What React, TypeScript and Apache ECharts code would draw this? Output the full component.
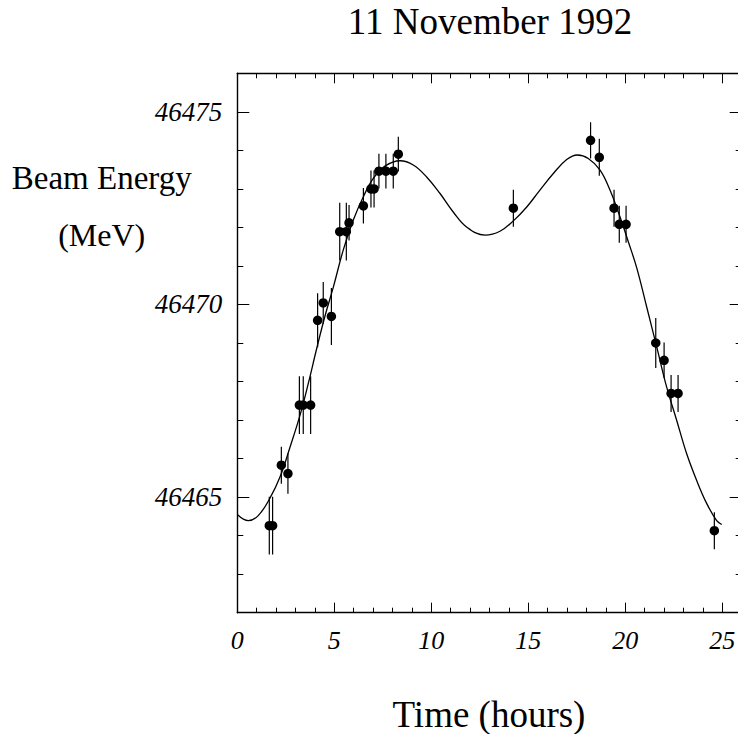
import React, { useEffect, useRef } from "react";
import * as echarts from "echarts";

// Measured data points: time (hours), beam energy (MeV), error (MeV)
const pointTimes = [1.65, 1.82, 2.27, 2.61, 3.2, 3.4, 3.78, 4.14, 4.43, 4.85, 5.28, 5.62, 5.76, 6.5, 6.89, 7.05, 7.3, 7.66, 8.04, 8.3, 14.23, 18.21, 18.66, 19.42, 19.69, 20.04, 21.57, 22.0, 22.36, 22.72, 24.59];
const pointEnergies = [46464.26, 46464.26, 46465.83, 46465.61, 46467.39, 46467.39, 46467.39, 46469.59, 46470.04, 46469.69, 46471.89, 46471.89, 46472.12, 46472.56, 46473.0, 46473.0, 46473.46, 46473.46, 46473.46, 46473.9, 46472.5, 46474.26, 46473.82, 46472.5, 46472.08, 46472.08, 46469.0, 46468.55, 46467.69, 46467.69, 46464.13];
const pointErrors = [0.75, 0.75, 0.48, 0.52, 0.75, 0.75, 0.75, 0.7, 0.54, 0.74, 0.75, 0.75, 0.46, 0.46, 0.48, 0.48, 0.45, 0.45, 0.45, 0.45, 0.48, 0.47, 0.48, 0.48, 0.48, 0.48, 0.65, 0.46, 0.48, 0.48, 0.48];

// Fitted curve
const curveTimes = [0.0, 0.57, 1.08, 1.69, 2.2, 2.72, 3.23, 3.66, 4.09, 4.52, 4.95, 5.46, 5.98, 6.49, 7.01, 7.61, 8.39, 9.07, 9.76, 10.45, 11.13, 11.82, 12.77, 13.54, 14.23, 14.92, 15.6, 16.29, 16.98, 17.53, 18.09, 18.7, 19.21, 19.73, 20.16, 20.59, 21.1, 21.62, 22.13, 22.65, 23.16, 23.68, 24.2, 24.71, 24.97];
const curveEnergies = [46464.55, 46464.39, 46464.52, 46464.98, 46465.52, 46466.3, 46467.12, 46467.95, 46468.85, 46469.7, 46470.45, 46471.41, 46472.19, 46472.79, 46473.27, 46473.59, 46473.73, 46473.62, 46473.31, 46472.88, 46472.4, 46472.01, 46471.8, 46471.9, 46472.17, 46472.53, 46472.97, 46473.4, 46473.76, 46473.88, 46473.79, 46473.49, 46472.97, 46472.27, 46471.62, 46470.95, 46469.94, 46468.9, 46467.86, 46466.99, 46466.13, 46465.43, 46464.83, 46464.39, 46464.29];

// Axis ticks
const xMajorTicks = [0, 5, 10, 15, 20, 25];
const xMinorTicks = [0, 1, 2, 3, 4, 5, 6, 7, 8, 9, 10, 11, 12, 13, 14, 15, 16, 17, 18, 19, 20, 21, 22, 23, 24, 25, 26];
const yMajorTicks = [46465, 46470, 46475];
const yMinorTicks = [46462, 46463, 46464, 46465, 46466, 46467, 46468, 46469, 46470, 46471, 46472, 46473, 46474, 46475, 46476];

const X_MIN = 0;
const X_MAX = 26;
const Y_MIN = 46462;
const Y_MAX = 46476;

const titleText = "11 November 1992";
const xTitle = "Time (hours)";
const yTitleLine1 = "Beam Energy";
const yTitleLine2 = "(MeV)";

const SERIF = '"Liberation Serif", "Times New Roman", serif';

export default function App() {
  const ref = useRef<HTMLDivElement>(null);

  useEffect(() => {
    if (!ref.current) return;
    const chart = echarts.init(ref.current, undefined, { renderer: "svg" });

    const lineStyle = { color: "#000", width: 1.4 };
    const tickStyle = { color: "#000", width: 1 };

    const makeX = (position: "top" | "bottom", major: boolean, labels: boolean) => ({
      type: "value" as const,
      position,
      min: X_MIN,
      max: X_MAX,
      axisLine: { show: !major, onZero: false, lineStyle },
      axisTick: {
        show: true,
        inside: true,
        length: major ? 10 : 5,
        customValues: major ? xMajorTicks : xMinorTicks,
        lineStyle: tickStyle,
      },
      axisLabel: labels
        ? {
            show: true,
            customValues: xMajorTicks,
            fontFamily: SERIF,
            fontStyle: "italic",
            fontSize: 26,
            lineHeight: 26,
            color: "#000",
            margin: 15,
          }
        : { show: false },
      splitLine: { show: false },
    });

    const makeY = (position: "left" | "right", major: boolean, labels: boolean) => ({
      type: "value" as const,
      position,
      min: Y_MIN,
      max: Y_MAX,
      axisLine: { show: !major, onZero: false, lineStyle },
      axisTick: {
        show: true,
        inside: true,
        length: major ? 12 : 6,
        customValues: major ? yMajorTicks : yMinorTicks,
        lineStyle: tickStyle,
      },
      axisLabel: labels
        ? {
            show: true,
            customValues: yMajorTicks,
            fontFamily: SERIF,
            fontStyle: "italic",
            fontSize: 27,
            color: "#000",
            margin: 15,
            formatter: (v: number) => String(v),
          }
        : { show: false },
      splitLine: { show: false },
    });

    const scatterData = pointTimes.map((t, i) => [t, pointEnergies[i], pointErrors[i]]);
    const curveData = curveTimes.map((t, i) => [t, curveEnergies[i]]);

    chart.setOption({
      animation: false,
      backgroundColor: "#fff",
      grid: { left: 237.3, top: 73.3, width: 504.4, height: 539.4, containLabel: false },
      xAxis: [
        makeX("bottom", false, true),
        makeX("bottom", true, false),
        makeX("top", false, false),
        makeX("top", true, false),
      ],
      yAxis: [
        makeY("left", false, true),
        makeY("left", true, false),
        makeY("right", false, false),
        makeY("right", true, false),
      ],
      graphic: [
        {
          type: "text",
          x: 490,
          y: 21.5,
          style: {
            text: titleText,
            font: `37px ${SERIF}`,
            fill: "#000",
            align: "center",
            verticalAlign: "middle",
          },
        },
        {
          type: "text",
          x: 489,
          y: 714,
          style: {
            text: xTitle,
            font: `37px ${SERIF}`,
            fill: "#000",
            align: "center",
            verticalAlign: "middle",
          },
        },
        {
          type: "text",
          x: 101.7,
          y: 178.2,
          style: {
            text: yTitleLine1,
            font: `33px ${SERIF}`,
            fill: "#000",
            align: "center",
            verticalAlign: "middle",
          },
        },
        {
          type: "text",
          x: 101.7,
          y: 234.7,
          style: {
            text: yTitleLine2,
            font: `32px ${SERIF}`,
            fill: "#000",
            align: "center",
            verticalAlign: "middle",
          },
        },
      ],
      series: [
        {
          type: "line",
          xAxisIndex: 0,
          yAxisIndex: 0,
          data: curveData,
          smooth: 0.4,
          showSymbol: false,
          symbol: "none",
          lineStyle: { color: "#000", width: 1.3 },
          clip: true,
          z: 2,
        },
        {
          type: "custom",
          xAxisIndex: 0,
          yAxisIndex: 0,
          data: scatterData,
          encode: { x: 0, y: 1 },
          renderItem: (_params: any, api: any) => {
            const x = api.value(0);
            const y = api.value(1);
            const e = api.value(2);
            const top = api.coord([x, y + e]);
            const bot = api.coord([x, y - e]);
            return {
              type: "line",
              shape: { x1: top[0], y1: top[1], x2: bot[0], y2: bot[1] },
              style: { stroke: "#000", lineWidth: 1.2 },
            };
          },
          z: 3,
        },
        {
          type: "scatter",
          xAxisIndex: 0,
          yAxisIndex: 0,
          data: scatterData.map((d) => [d[0], d[1]]),
          symbol: "circle",
          symbolSize: 9.5,
          itemStyle: { color: "#000", opacity: 1 },
          z: 4,
        },
      ],
    });

    return () => {
      chart.dispose();
    };
  }, []);

  return (
    <div
      style={{
        position: "absolute",
        left: 0,
        top: 0,
        width: 738,
        height: 734,
        overflow: "hidden",
        background: "#fff",
      }}
    >
      <div ref={ref} style={{ width: 745, height: 734 }} />
    </div>
  );
}
